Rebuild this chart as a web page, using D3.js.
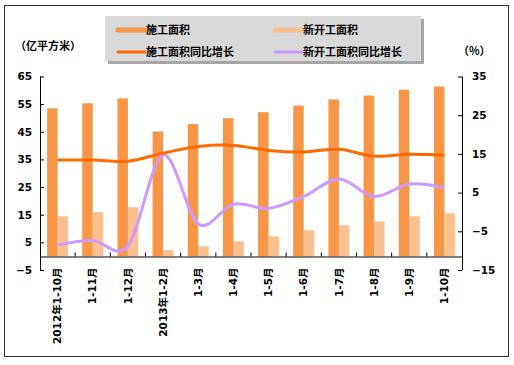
<!DOCTYPE html>
<html><head><meta charset="utf-8">
<script src="https://cdn.jsdelivr.net/npm/d3@7"></script>
<style>
body{margin:0;background:#fff;}
text{font-family:"DejaVu Sans","Noto Sans CJK SC",sans-serif;font-weight:bold;}
.cjk{font-family:"Noto Sans CJK SC",sans-serif;font-weight:bold;}
</style></head>
<body><svg id="c" width="514" height="365"></svg>
<script>
const categories = ["2012年1-10月","1-11月","1-12月","2013年1-2月","1-3月","1-4月","1-5月","1-6月","1-7月","1-8月","1-9月","1-10月"];
const constructionArea = [53.5,55.3,57.1,45.1,47.8,49.9,52.1,54.5,56.7,58.1,60.2,61.4];
const newStartArea = [14.4,15.9,17.7,2.2,3.6,5.4,7.2,9.4,11.2,12.6,14.4,15.5];
const constructionGrowth = [13.4,13.4,13.1,15.2,16.9,17.2,15.9,15.5,16.2,14.4,14.9,14.7];
const newStartGrowth = [-8.5,-7.4,-8.8,14.7,-3.1,2.0,0.9,4.0,8.5,4.0,7.2,6.3];
const leftTicks = [65,55,45,35,25,15,5,-5];
const rightTicks = [35,25,15,5,-5,-15];
const seriesNames = ["施工面积","新开工面积","施工面积同比增长","新开工面积同比增长"];
const colors = ["#f79646","#fac090","#ff6a00","#cc99ff"];

const svg = d3.select("#c");
svg.append("rect").attr("x",4.5).attr("y",5.5).attr("width",504).attr("height",351)
  .attr("fill","#fff").attr("stroke","#333").attr("stroke-width",1);

const x0=40, x1=462, yTop=76.5, yBot=270;
const x = d3.scaleBand().domain(categories).range([x0,x1]);
const yL = d3.scaleLinear().domain([-5,65]).range([yBot,yTop]);
const yR = d3.scaleLinear().domain([-15,35]).range([yBot,yTop]);

const bw = 10.5;
const g = svg.append("g");
g.selectAll(".b1").data(constructionArea).join("rect")
  .attr("x",(d,i)=>x(categories[i])+x.bandwidth()/2-bw)
  .attr("width",bw).attr("y",d=>yL(d)).attr("height",d=>yL(0)-yL(d)).attr("fill",colors[0]);
g.selectAll(".b2").data(newStartArea).join("rect")
  .attr("x",(d,i)=>x(categories[i])+x.bandwidth()/2)
  .attr("width",bw).attr("y",d=>yL(d)).attr("height",d=>yL(0)-yL(d)).attr("fill",colors[1]);

const axL = d3.axisLeft(yL).tickValues(leftTicks).tickSize(-4).tickPadding(8).tickFormat(d3.format("d"));
const aL = svg.append("g").attr("transform",`translate(${x0},0)`).call(axL);
const axR = d3.axisRight(yR).tickValues(rightTicks).tickSize(-4).tickPadding(10).tickFormat(d3.format("d"));
const aR = svg.append("g").attr("transform",`translate(${x1},0)`).call(axR);
[aL,aR].forEach(a=>{
  a.select(".domain").remove();
  a.selectAll(".tick line").attr("stroke","#000");
  a.selectAll(".tick text").attr("font-size",10.5).attr("fill","#000")
    .style("font-family","DejaVu Sans, sans-serif").style("font-weight","bold");
});
svg.append("line").attr("x1",x0+0.5).attr("x2",x0+0.5).attr("y1",yTop).attr("y2",yBot).attr("stroke","#000");
svg.append("line").attr("x1",x1+0.5).attr("x2",x1+0.5).attr("y1",yTop).attr("y2",yBot).attr("stroke","#000");

const axX = d3.axisBottom(x).tickSize(0).tickPadding(6);
const aX = svg.append("g").attr("transform",`translate(0,${Math.round(yL(0))+0.5})`).call(axX);
aX.select(".domain").attr("stroke","#000");
aX.selectAll(".tick text").attr("font-size",10.5).attr("fill","#000")
  .attr("transform","rotate(-90)").attr("text-anchor","end").attr("x",-11).attr("y",0).attr("dy","0.35em")
  .style("font-family","DejaVu Sans, Noto Sans CJK SC, sans-serif").style("font-weight","bold");
aX.selectAll(".bt").data(categories.slice(1)).join("line")
  .attr("x1",d=>x(d)).attr("x2",d=>x(d)).attr("y1",0).attr("y2",-4).attr("stroke","#000");

const line = (sc)=>d3.line().x((d,i)=>x(categories[i])+x.bandwidth()/2).y(d=>sc(d)).curve(d3.curveCatmullRom.alpha(0));
svg.append("path").datum(newStartGrowth).attr("d",line(yR)).attr("fill","none").attr("stroke",colors[3]).attr("stroke-width",3);
svg.append("path").datum(constructionGrowth).attr("d",line(yR)).attr("fill","none").attr("stroke",colors[2]).attr("stroke-width",3);

svg.append("text").attr("class","cjk").attr("x",15).attr("y",50).attr("font-size",11).text("（亿平方米）");
svg.append("text").attr("class","cjk").attr("x",458).attr("y",55).attr("font-size",11).text("（%）");

const lg = svg.append("g");
lg.append("rect").attr("x",108).attr("y",19).attr("width",316).attr("height",45).attr("fill","#a6a6a6");
lg.append("rect").attr("x",105).attr("y",16).attr("width",316).attr("height",45).attr("fill","#d9d9d9");
const pos = [[118,30],[275,30],[118,52],[275,52]];
seriesNames.forEach((n,i)=>{
  const [lx,ly]=pos[i];
  lg.append("line").attr("x1",lx).attr("x2",lx+27).attr("y1",ly).attr("y2",ly)
    .attr("stroke",colors[i]).attr("stroke-width",i<2?5:3).attr("stroke-linecap","round");
  lg.append("text").attr("class","cjk").attr("x",lx+28).attr("y",ly+4).attr("font-size",11).text(n);
});
</script></body></html>
